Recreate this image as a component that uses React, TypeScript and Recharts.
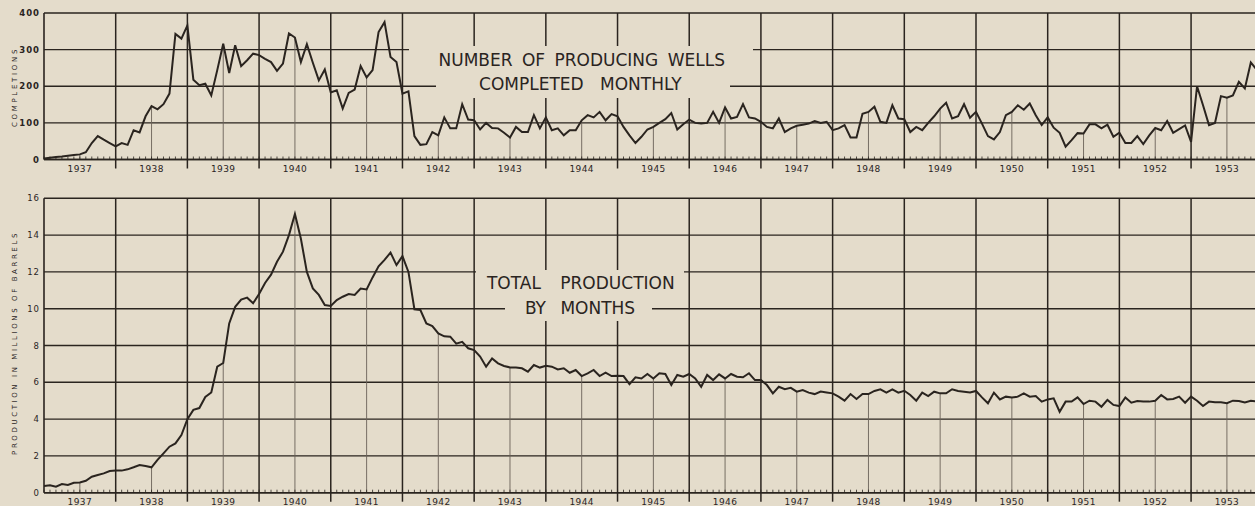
import React from 'react';
import { LineChart, Line, XAxis, YAxis, CartesianGrid, ReferenceLine } from 'recharts';

// ---- data ----
const years = [1937, 1938, 1939, 1940, 1941, 1942, 1943, 1944, 1945, 1946, 1947, 1948, 1949, 1950, 1951, 1952, 1953];

// Number of producing wells completed, monthly (Jan 1937 .. Dec 1953)
const wellsCompleted = [
  3, 5, 7, 8, 10, 12, 14, 20, 45, 64, 54, 45,
  36, 45, 40, 80, 74, 118, 146, 137, 151, 180, 343, 330,
  366, 218, 203, 207, 175, 244, 316, 236, 312, 255, 271, 289,
  285, 275, 266, 242, 262, 344, 333, 266, 315, 264, 216, 246,
  183, 189, 139, 182, 191, 255, 224, 244, 348, 375, 280, 266,
  180, 186, 64, 40, 42, 75, 66, 115, 85, 85, 151, 109,
  107, 82, 100, 86, 85, 73, 60, 89, 75, 75, 121, 85,
  115, 80, 85, 66, 80, 80, 107, 121, 115, 130, 107, 124,
  118, 89, 66, 45, 62, 82, 89, 100, 110, 127, 82, 96,
  109, 100, 98, 100, 130, 100, 142, 112, 116, 151, 115, 112,
  103, 89, 85, 112, 75, 85, 92, 95, 98, 105, 100, 103,
  80, 85, 94, 60, 60, 125, 130, 144, 103, 100, 148, 112,
  110, 75, 89, 80, 100, 118, 139, 155, 112, 118, 151, 114,
  130, 98, 64, 55, 75, 121, 130, 148, 136, 153, 121, 94,
  115, 87, 73, 35, 53, 72, 71, 96, 96, 85, 95, 62,
  73, 45, 45, 64, 42, 66, 86, 80, 105, 73, 83, 93,
  48, 200, 148, 94, 100, 173, 169, 175, 212, 194, 265, 245,
];

// Total production by months, millions of barrels
const productionMillions = [
  0.36, 0.4, 0.33, 0.47, 0.42, 0.54, 0.55, 0.65, 0.87, 0.96, 1.05, 1.18,
  1.2, 1.2, 1.27, 1.38, 1.5, 1.45, 1.38, 1.78, 2.14, 2.5, 2.68, 3.13,
  4.0, 4.5, 4.6, 5.2, 5.45, 6.85, 7.05, 9.2, 10.1, 10.5, 10.6, 10.3,
  10.8, 11.4, 11.85, 12.55, 13.1, 14.0, 15.15, 13.8, 12.0, 11.1, 10.75, 10.2,
  10.15, 10.47, 10.65, 10.8, 10.75, 11.1, 11.05, 11.7, 12.3, 12.65, 13.05, 12.37,
  12.86, 12.0, 9.97, 9.93, 9.2, 9.06, 8.66, 8.5, 8.48, 8.1, 8.2, 7.85,
  7.75, 7.4, 6.85, 7.3, 7.03, 6.89, 6.81, 6.81, 6.76, 6.58, 6.94, 6.8,
  6.9, 6.85, 6.7, 6.76, 6.52, 6.67, 6.34, 6.49, 6.67, 6.34, 6.52, 6.34,
  6.36, 6.34, 5.9, 6.27, 6.21, 6.45, 6.21, 6.49, 6.45, 5.85, 6.4, 6.3,
  6.45, 6.21, 5.76, 6.4, 6.12, 6.43, 6.21, 6.45, 6.3, 6.27, 6.49, 6.12,
  6.12, 5.85, 5.4, 5.76, 5.63, 5.7, 5.49, 5.58, 5.44, 5.36, 5.5, 5.45,
  5.4, 5.22, 5.0, 5.36, 5.09, 5.36, 5.36, 5.53, 5.62, 5.44, 5.62, 5.44,
  5.54, 5.31, 5.0, 5.44, 5.25, 5.49, 5.4, 5.4, 5.62, 5.53, 5.49, 5.45,
  5.53, 5.18, 4.86, 5.44, 5.07, 5.22, 5.18, 5.22, 5.4, 5.22, 5.25, 4.95,
  5.07, 5.13, 4.4, 4.95, 4.95, 5.18, 4.82, 5.0, 4.95, 4.67, 5.04, 4.77,
  4.71, 5.18, 4.89, 4.98, 4.95, 4.95, 5.0, 5.31, 5.07, 5.09, 5.22, 4.89,
  5.22, 5.0, 4.71, 4.95, 4.91, 4.91, 4.86, 5.0, 4.98, 4.91, 5.0, 4.95,
];

const wellTicks = [0, 100, 200, 300, 400];
const productionTicks = [0, 2, 4, 6, 8, 10, 12, 14, 16];

// ---- styling ----
const BG = '#e4dccb';
const INK = '#2a241f';
const DROP = '#6a6158';
const FONT = 'DejaVu Sans, Verdana, sans-serif';
const X_MAX = 202.7;

const wellsData = wellsCompleted.map((v, m) => ({ m, v }));
const prodData = productionMillions.map((v, m) => ({ m, v }));
const monthTicks = wellsCompleted.map((_, m) => m).filter((m) => m <= X_MAX);
const yearStarts = years.map((_, i) => i * 12).filter((m) => m > 0 && m <= X_MAX);
const midYears = years.map((_, i) => i * 12 + 6).filter((m) => m <= X_MAX);

function makeMonthTick(labelDy: number) {
  return (props: any) => {
    const { x, y, payload } = props;
    const m = payload.value as number;
    return (
      <g>
        <line x1={x} x2={x} y1={y} y2={y - 3} stroke={INK} strokeWidth={0.8} />
        {m % 12 === 0 && m > 0 ? (
          <line x1={x} x2={x} y1={y} y2={y + 9} stroke={INK} strokeWidth={1.5} />
        ) : null}
        {m % 12 === 6 ? (
          <text x={x} y={y + labelDy} textAnchor="middle" fill={INK} fontSize={9} fontFamily={FONT} letterSpacing={0.4}>
            {years[Math.floor(m / 12)]}
          </text>
        ) : null}
      </g>
    );
  };
}

function Panel(props: {
  data: { m: number; v: number }[];
  values: number[];
  height: number;
  top: number;
  axisH: number;
  yMax: number;
  yTicks: number[];
  labelDy: number;
  tickWeight: number;
}) {
  const { data, values, height, top, axisH, yMax, yTicks, labelDy, tickWeight } = props;
  return (
    <LineChart width={1255} height={height} data={data} margin={{ top, right: 0, bottom: 0, left: 0 }}>
      <CartesianGrid vertical={false} stroke={INK} strokeWidth={1.4} strokeOpacity={1} />
      <XAxis
        dataKey="m"
        type="number"
        domain={[0, X_MAX]}
        allowDataOverflow
        ticks={monthTicks}
        interval={0}
        tickSize={0}
        tickMargin={0}
        tickLine={false}
        height={axisH}
        axisLine={{ stroke: INK, strokeWidth: 1.6 }}
        tick={makeMonthTick(labelDy)}
      />
      <YAxis
        type="number"
        domain={[0, yMax]}
        ticks={yTicks}
        interval={0}
        width={44}
        tickLine={false}
        tickSize={0}
        tickMargin={4}
        axisLine={{ stroke: INK, strokeWidth: 1.6 }}
        tick={{ fill: INK, fontSize: 8.5, fontFamily: FONT, fontWeight: tickWeight, letterSpacing: 1 } as any}
      />
      {yearStarts.map((m) => (
        <ReferenceLine key={'y' + m} x={m} stroke={INK} strokeWidth={1.5} />
      ))}
      {midYears.map((m) => (
        <ReferenceLine
          key={'d' + m}
          segment={[
            { x: m, y: 0 },
            { x: m, y: values[m] },
          ]}
          stroke={DROP}
          strokeWidth={0.9}
        />
      ))}
      <Line
        type="linear"
        dataKey="v"
        stroke={INK}
        strokeWidth={2}
        dot={false}
        activeDot={false}
        isAnimationActive={false}
      />
    </LineChart>
  );
}

export default function App() {
  const titleStyle = { fontFamily: FONT, fontSize: 17, fill: INK } as const;
  return (
    <div style={{ position: 'absolute', left: 0, top: 0, width: 1255, height: 506, background: BG, overflow: 'hidden' }}>
      <div style={{ position: 'absolute', left: 0, top: 0 }}>
        <Panel
          data={wellsData}
          values={wellsCompleted}
          height={185}
          top={13}
          axisH={25.5}
          yMax={400}
          yTicks={wellTicks}
          labelDy={12}
          tickWeight={700}
        />
      </div>
      <div style={{ position: 'absolute', left: 0, top: 185 }}>
        <Panel
          data={prodData}
          values={productionMillions}
          height={321}
          top={13.3}
          axisH={13.3}
          yMax={16}
          yTicks={productionTicks}
          labelDy={12.3}
          tickWeight={400}
        />
      </div>
      <svg width={1255} height={506} style={{ position: 'absolute', left: 0, top: 0, pointerEvents: 'none' }}>
        <rect x={409} y={46} width={344} height={32} fill={BG} />
        <rect x={436} y={78} width={294} height={20} fill={BG} />
        <rect x={476} y={270} width={208} height={30} fill={BG} />
        <rect x={505} y={300} width={147} height={21} fill={BG} />
        <text x={581.7} y={66} textAnchor="middle" wordSpacing={4} {...titleStyle}>NUMBER OF PRODUCING WELLS</text>
        <text x={580.3} y={90} textAnchor="middle" wordSpacing={11} {...titleStyle}>COMPLETED MONTHLY</text>
        <text x={580.8} y={289.3} textAnchor="middle" wordSpacing={14} {...titleStyle}>TOTAL PRODUCTION</text>
        <text x={580} y={314} textAnchor="middle" wordSpacing={9} {...titleStyle}>BY MONTHS</text>
        <text
          transform="translate(16.7,87) rotate(-90)"
          textAnchor="middle"
          fontFamily={FONT}
          fontSize={7}
          letterSpacing={2.7}
          fill={INK}
        >
          COMPLETIONS
        </text>
        <text
          transform="translate(16.7,343) rotate(-90)"
          textAnchor="middle"
          fontFamily={FONT}
          fontSize={7}
          letterSpacing={2.6}
          fill={INK}
        >
          PRODUCTION IN MILLIONS OF BARRELS
        </text>
      </svg>
    </div>
  );
}
